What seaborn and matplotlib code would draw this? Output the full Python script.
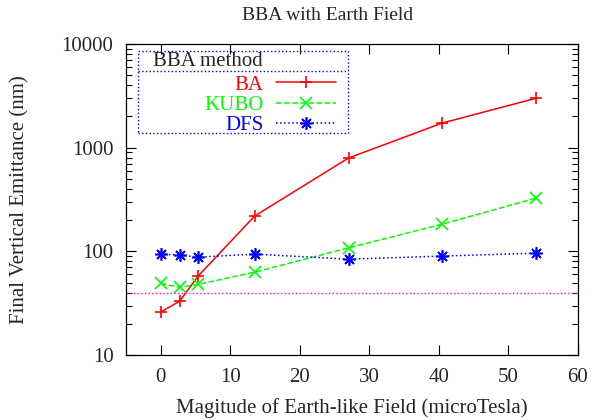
import matplotlib
matplotlib.use("Agg")
import matplotlib.pyplot as plt
from matplotlib.lines import Line2D
from matplotlib.patches import Rectangle
from matplotlib.ticker import LogLocator, FixedLocator, NullFormatter
import seaborn as sns
import pandas as pd

field = [0, 2.7, 5.4, 13.5, 27, 40.5, 54]
ba = [26, 33, 58, 219, 795, 1730, 3000]
kubo = [49, 45, 48, 63, 108, 183, 327]
dfs = [94, 92, 88, 94, 84, 90, 96]
target = 40
series_names = ["BA", "KUBO", "DFS"]
xticks = [0, 10, 20, 30, 40, 50, 60]
yticks = [10, 100, 1000, 10000]

sns.set_style("ticks")
plt.rcParams["font.family"] = ["Liberation Serif", "DejaVu Serif"]

FS = 15
fig = plt.figure(figsize=(5.94, 4.2), dpi=100)
ax = fig.add_axes([126 / 594, 1 - 355 / 420, (578 - 126) / 594, (355 - 44) / 420])

df = pd.DataFrame({"field": field, "BA": ba, "KUBO": kubo, "DFS": dfs})
styles = {
    "BA": dict(color="#ff0000", linestyle="-", marker="+"),
    "KUBO": dict(color="#00ff00", linestyle="--", marker="x"),
    "DFS": dict(color="#0000ff", linestyle=":", marker=(8, 2, 0)),
}
for name in series_names:
    st = styles[name]
    sns.lineplot(data=df, x="field", y=name, ax=ax, color=st["color"],
                 linestyle=st["linestyle"], marker=st["marker"], markersize=9,
                 markeredgewidth=1.2, markeredgecolor=st["color"], linewidth=1.1,
                 label=name)

ax.axhline(target, color="#ff00ff", linestyle=":", linewidth=1.0)

ax.set_xlim(-5, 60)
ax.set_yscale("log")
ax.set_ylim(10, 10000)
ax.xaxis.set_major_locator(FixedLocator(xticks))
ax.yaxis.set_major_locator(FixedLocator(yticks))
ax.yaxis.set_minor_locator(LogLocator(base=10, subs=range(2, 10)))
ax.yaxis.set_minor_formatter(NullFormatter())
ax.set_yticklabels([str(v) for v in yticks])
ax.set_xticklabels([str(v) for v in xticks])
ax.tick_params(which="both", direction="in", top=True, right=True, labelsize=FS,
               color="black", width=0.8)
ax.tick_params(which="major", length=7, pad=9)
ax.tick_params(which="minor", length=4)
for sp in ax.spines.values():
    sp.set_linewidth(0.9)
    sp.set_color("black")

ax.set_xlabel("Magitude of Earth-like Field (microTesla)", fontsize=FS, labelpad=8)
ax.set_ylabel("Final Vertical Emittance (nm)", fontsize=FS, labelpad=23)
fig.text(328 / 594, 1 - 15 / 420, "BBA with Earth Field", ha="center", va="center", fontsize=14)

# legend (entries) without frame
leg = ax.legend(loc="upper right", bbox_to_anchor=(0.465, 0.900),
                markerfirst=False, fontsize=FS, frameon=False,
                borderpad=0, handlelength=2.9, labelspacing=0.03,
                handletextpad=0.6, borderaxespad=0)
for txt, name in zip(leg.get_texts(), series_names):
    txt.set_color(styles[name]["color"])

# legend box, header and separator
ax.add_patch(Rectangle((12 / 452, 1 - 89 / 311), 210 / 452, 82 / 311,
                       transform=ax.transAxes, fill=False, edgecolor="#0000ff",
                       linestyle=":", linewidth=1.0, zorder=5))
ax.add_line(Line2D([12 / 452, 222 / 452], [1 - 27 / 311, 1 - 27 / 311],
                   transform=ax.transAxes, color="#0000ff", linestyle=":",
                   linewidth=1.0, zorder=5))
ax.text(27 / 452, 1 - 17 / 311, "BBA method", transform=ax.transAxes,
        ha="left", va="center", fontsize=FS)

fig.savefig("out.png", dpi=100)
